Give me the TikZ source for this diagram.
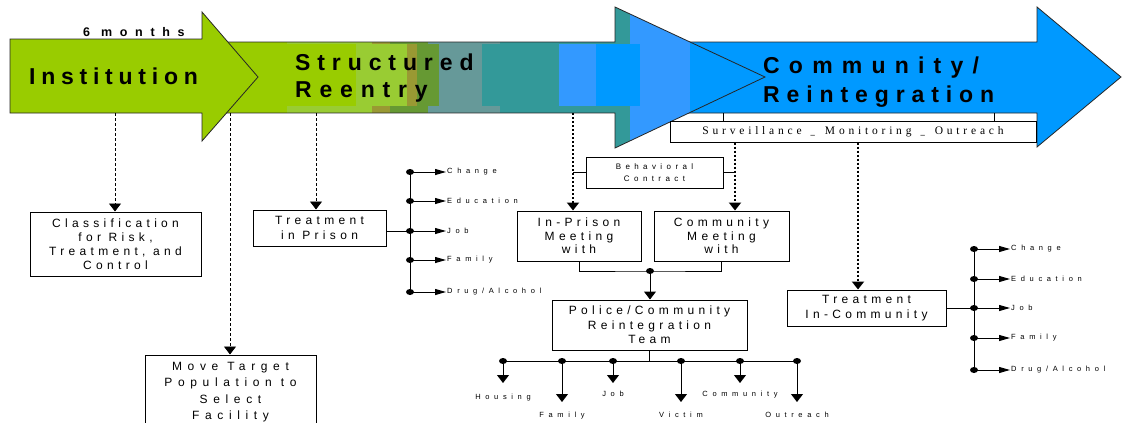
\documentclass[tikz,border=0pt]{standalone}
\usepackage{fontspec}
\setmainfont{Liberation Sans}
\newfontfamily\fbig[LetterSpace=32]{Liberation Sans}
\newfontfamily\fmon[LetterSpace=61]{Liberation Sans}
\newfontfamily\fbx[LetterSpace=36]{Liberation Sans}
\newfontfamily\fmove[LetterSpace=47]{Liberation Sans}
\newfontfamily\fbeh[LetterSpace=55]{Liberation Sans}
\newfontfamily\fsm[LetterSpace=62]{Liberation Sans}
\newfontfamily\fsv[LetterSpace=33]{Liberation Serif}
\usetikzlibrary{arrows.meta,shapes.geometric}
\definecolor{grn}{HTML}{99CC00}
\definecolor{grnB}{HTML}{99CC33}
\definecolor{oliv}{HTML}{999933}
\definecolor{grnC}{HTML}{669933}
\definecolor{gtl}{HTML}{669999}
\definecolor{tl}{HTML}{339999}
\definecolor{lblu}{HTML}{3399FF}
\definecolor{blu}{HTML}{0099FF}
\begin{document}
\begin{tikzpicture}[x=1pt,y=-1pt,line join=miter,
  boxst/.style={draw, line width=1pt, fill=white, inner sep=0pt, align=center,
    font=\fbx\fontsize{12}{14.5}\selectfont},
  arr/.style={-{Triangle[width=12pt,length=8pt]}},
  sarr/.style={-{Triangle[width=6pt,length=11pt]}},
  dashl/.style={line width=0.8pt, dash pattern=on 3pt off 2pt},
  dotl/.style={line width=2pt, dash pattern=on 2pt off 2pt},
  dot/.style={ellipse, fill, inner sep=0pt, minimum width=8pt, minimum height=6pt},
  ln/.style={line width=1pt},
  outl/.style={draw=black!85, line width=0.8pt},
  big/.style={anchor=base west, inner sep=0pt, font=\fbig\bfseries\fontsize{23}{23}\selectfont},
  lab/.style={inner xsep=1pt, inner ysep=0pt, font=\fsm\fontsize{7.5}{8}\selectfont}]
\useasboundingbox (0,0) rectangle (1122,423);
\clip (0,0) rectangle (1122,423);
\fill[white] (0,0) rectangle (1122,423);

% Community / Reintegration arrow
\draw[outl, fill=blu] (650,42) -- (1037,42) -- (1037,7) -- (1121,77) -- (1037,147) -- (1037,113) -- (650,113) -- cycle;

% Structured reentry arrow (striped)
\begin{scope}
\clip (215,42) -- (615,42) -- (615,7) -- (765,77) -- (615,148) -- (615,113) -- (215,113) -- cycle;
\fill[tl] (615,0) rectangle (630,160);
\fill[lblu] (630,0) rectangle (690,160);
\fill[blu] (690,0) rectangle (770,160);
\fill[grn] (215,42) rectangle (287,113);
\fill[grnB] (287,42) rectangle (372,113);
\fill[oliv] (372,42) rectangle (390,113);
\fill[grnC] (390,42) rectangle (428,113);
\fill[gtl] (428,42) rectangle (500,113);
\fill[tl] (500,42) rectangle (615,113);
\fill[grn] (215,44) rectangle (356,106);
\fill[grnB] (356,44) rectangle (407,106);
\fill[oliv] (407,44) rectangle (417,106);
\fill[grnC] (417,44) rectangle (439,106);
\fill[gtl] (439,44) rectangle (482,106);
\fill[tl] (482,44) rectangle (559,106);
\fill[lblu] (559,44) rectangle (596,106);
\fill[blu] (596,44) rectangle (640,106);
\end{scope}
\draw[outl] (215,42) -- (615,42) -- (615,7) -- (765,77) -- (615,148) -- (615,113) -- (215,113);

% Institution arrow
\draw[outl, fill=grn] (10,39) -- (202,39) -- (202,12) -- (258,77) -- (202,141) -- (202,113) -- (10,113) -- cycle;

% arrow texts
\node[anchor=base west, inner sep=0pt, font=\fmon\bfseries\fontsize{12.5}{12.5}\selectfont] (months) at (83,36) {6 months};
\node[big] (inst) at (29,84) {\addfontfeature{LetterSpace=25}Institution};
\node[big] (stru) at (295,70) {\addfontfeature{LetterSpace=30}Structured};
\node[big] (reen) at (295,97) {\addfontfeature{LetterSpace=34}Reentry};
\node[big] (comt) at (763,73) {\addfontfeature{LetterSpace=40}Community/};
\node[big] (rein) at (763,102) {\addfontfeature{LetterSpace=30}Reintegration};

% Surveillance box
\node[draw, line width=1pt, fill=white, inner sep=0pt, minimum width=366pt, minimum height=21pt,
  font=\fsv\fontsize{11.5}{12}\selectfont] (surv) at (853,131.5)
  {Surveillance\kern9pt\scalebox{0.75}[1]{\_}\kern10pt Monitoring\kern9pt\scalebox{0.75}[1]{\_}\kern10pt Outreach};
\draw[ln] ([xshift=-130pt]surv.north) -- ++(0,-8);
\draw[ln] ([xshift=141pt]surv.north) -- ++(0,-8);

% start coordinates on arrows
\coordinate (s1) at (115,113);
\coordinate (s2) at (230,113);
\coordinate (s3) at (316,113);
\coordinate (s4) at (573,113);
\coordinate (s5) at ([xshift=-118pt]surv.south);
\coordinate (s6) at ([xshift=5pt]surv.south);

% boxes
\node[boxst, minimum width=171pt, minimum height=64pt, font=\fbx\fontsize{12}{14}\selectfont] (cls) at (115.5,244)
  {Classification\\for Risk,\\Treatment, and\\Control};
\node[boxst, minimum width=171pt, minimum height=74pt, font=\fmove\fontsize{12}{16.5}\selectfont] (move) at (230.5,392)
  {Move Target\\Population to\\Select\\Facility};
\node[boxst, minimum width=133pt, minimum height=36pt, font=\fbx\fontsize{12}{15}\selectfont] (tip) at (319.5,228)
  {Treatment\\in Prison};
\node[boxst, minimum width=137pt, minimum height=31pt, font=\fbeh\fontsize{8}{12}\selectfont] (beh) at (654.5,172.5)
  {Behavioral\\Contract};
\node[boxst, minimum width=124pt, minimum height=50pt, font=\fbx\fontsize{12}{13.5}\selectfont] (inpr) at (579,236)
  {In-Prison\\Meeting\\with};
\node[boxst, minimum width=135pt, minimum height=50pt, font=\fbx\fontsize{12}{13.5}\selectfont] (comm) at (721.5,236)
  {Community\\Meeting\\with};
\node[boxst, minimum width=195pt, minimum height=50pt] (police) at (649.5,325)
  {Police/Community\\Reintegration\\Team};
\node[boxst, minimum width=159pt, minimum height=36pt, font=\fbx\fontsize{12}{15}\selectfont] (tic) at (866.5,308)
  {Treatment\\In-Community};

% dashed / dotted connectors
\draw[dashl, arr] (s1) -- (s1 |- cls.north);
\draw[dashl, arr] (s2) -- (s2 |- move.north);
\draw[dashl, arr] (s3) -- (s3 |- tip.north);
\draw[dotl, arr] (s4) -- (s4 |- inpr.north);
\draw[dotl, arr] (s5) -- (s5 |- comm.north);
\draw[dotl, arr] (s6) -- (s6 |- tic.north);
\draw[ln] (beh.west) -- (beh.west -| s4);
\draw[ln] (beh.east) -- (beh.east -| s5);

% join of meetings
\node[dot] (jn) at (650,271) {};
\draw[ln] (inpr.south) |- (jn.center) -| (comm.south);
\draw[ln, arr] (jn.center) -- (jn |- police.north);

% left list
\foreach \i/\yy/\t in {1/172/Change, 2/201/Education, 3/231/Job, 4/260/Family, 5/292/{Drug/Alcohol}}{
  \node[dot] (L\i) at (410,\yy) {};
  \node[lab, anchor=west] (lt\i) at (446,\yy) {\t};
  \draw[ln, sarr] (L\i.center) -- (lt\i.west);
}
\draw[ln] (L1.center) -- (L5.center);
\draw[ln] (tip.east |- L3) -- (L3.center);

% right list
\foreach \i/\yy/\t in {1/249/Change, 2/279/Education, 3/308/Job, 4/338/Family, 5/370/{Drug/Alcohol}}{
  \node[dot] (R\i) at (974,\yy) {};
  \node[lab, anchor=west] (rt\i) at (1010,\yy) {\t};
  \draw[ln, sarr] (R\i.center) -- (rt\i.west);
}
\draw[ln] (R1.center) -- (R5.center);
\draw[ln] (tic.east |- R3) -- (R3.center);

% bottom list
\foreach \i/\xx/\yy/\sp/\t in {1/503/383/10.5/Housing, 2/562/402/9.5/Family, 3/613/383/7.5/Job, 4/681/402/9.5/Victim, 5/740/383/7.5/Community, 6/797/402/9.5/Outreach}{
  \node[dot] (B\i) at (\xx,361) {};
  \node[lab, anchor=north, inner ysep=\sp pt] (bt\i) at (\xx,\yy) {\t};
  \draw[ln, arr] (B\i.center) -- (bt\i.north);
}
\draw[ln] (B1.center) -- (B6.center);
\draw[ln] (police.south) -- (police.south |- B1);
\end{tikzpicture}
\end{document}
